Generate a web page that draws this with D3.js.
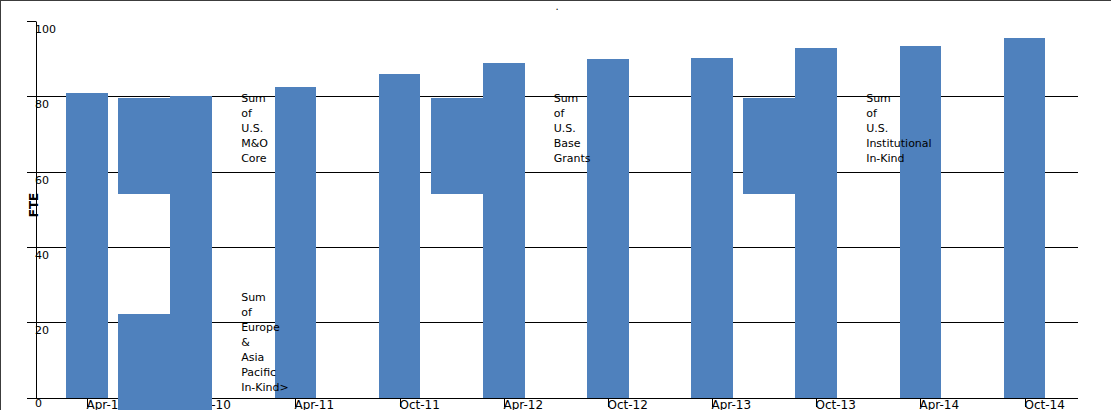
<!DOCTYPE html>
<html>
<head>
<meta charset="utf-8">
<script src="https://cdn.jsdelivr.net/npm/d3@7"></script>
<style>
  html, body { margin: 0; padding: 0; background: #fff; }
  svg { display: block; }
  text { font-family: "DejaVu Sans", sans-serif; fill: #000; }
  rect { shape-rendering: crispEdges; }
</style>
</head>
<body>
<script>
// ---- data ----
const periods = ["Apr-10","Oct-10","Apr-11","Oct-11","Apr-12","Oct-12","Apr-13","Oct-13","Apr-14","Oct-14"];
const totalFTE = [80.8, 80.2, 82.4, 85.9, 88.8, 89.9, 90.1, 92.8, 93.4, 95.6];
const totalLow = [0, -4, 0, 0, 0, 0, 0, 0, 0, 0];
const yTicks = [0, 20, 40, 60, 80, 100];
const yTitle = "FTE";
// stray stacked segments (slot index, high value, low value)
const segSlot = [1, 4, 7, 1];
const segHigh = [79.5, 79.5, 79.5, 22.1];
const segLow  = [54.1, 54.1, 54.1, -4];
// series labels left in the plot
const noteSlot = [1, 4, 7, 1];
const noteValue = [78.6, 78.6, 78.6, 25.7];
const noteLines = [
  ["Sum","of","U.S.","M&O","Core"],
  ["Sum","of","U.S.","Base","Grants"],
  ["Sum","of","U.S.","Institutional","In-Kind"],
  ["Sum","of","Europe","&","Asia","Pacific","In-Kind>"]
];

// ---- drawing ----
const W = 1111, H = 410;
const svg = d3.select("body").append("svg").attr("width", W).attr("height", H);

const x = d3.scaleLinear().domain([0, periods.length - 1]).range([87, 1024.5]);
const y = d3.scaleLinear().domain([0, 100]).range([397.5, 21]);
const axisLeft = 36, tickLeft = 27, plotRight = 1078;
const color = "#4f81bd";

// frame (top & left)
svg.append("line").attr("x1", 0).attr("x2", W).attr("y1", 0.5).attr("y2", 0.5).attr("stroke", "#3c3c3c");
svg.append("line").attr("x1", 0.5).attr("x2", 0.5).attr("y1", 0).attr("y2", H).attr("stroke", "#3c3c3c");

// stray title dot
svg.append("text").attr("x", 555.5).attr("y", 10).style("font-size", "10px").text(".");

// gridlines / y ticks
const g = svg.append("g");
yTicks.forEach(v => {
  const yy = Math.round(y(v)) + 0.5;
  g.append("line")
    .attr("x1", tickLeft).attr("x2", v === 100 ? axisLeft : plotRight)
    .attr("y1", yy).attr("y2", yy)
    .attr("stroke", "#000").attr("stroke-width", 1);
  g.append("text").attr("x", axisLeft - 1).attr("y", Math.min(yy + 11.5, 407))
    .style("font-size", "11px").text(v);
});
// y axis line
svg.append("line").attr("x1", axisLeft + 0.5).attr("x2", axisLeft + 0.5)
  .attr("y1", Math.round(y(100)) + 0.5).attr("y2", Math.round(y(0)) + 0.5)
  .attr("stroke", "#000");

// y title
svg.append("text")
  .attr("transform", `translate(${38},${205}) rotate(-90)`)
  .attr("text-anchor", "middle")
  .style("font-size", "12px").style("font-weight", "bold")
  .text(yTitle);

// x ticks + labels
periods.forEach((p, i) => {
  const xx = Math.round(x(i)) + 0.5;
  svg.append("line").attr("x1", xx).attr("x2", xx)
    .attr("y1", Math.round(y(0)) + 0.5).attr("y2", 407).attr("stroke", "#000");
  svg.append("text").attr("x", xx - 1).attr("y", 408.5)
    .style("font-size", "12px").text(p);
});

// bars
svg.append("g").selectAll("rect").data(periods).join("rect")
  .attr("x", (d, i) => x(i - 0.2))
  .attr("width", (d, i) => x(i + 0.2) - x(i - 0.2))
  .attr("y", (d, i) => y(totalFTE[i]))
  .attr("height", (d, i) => y(totalLow[i]) - y(totalFTE[i]))
  .attr("fill", color);

// stray segments
svg.append("g").selectAll("rect").data(segSlot).join("rect")
  .attr("x", (d) => x(d - 0.7))
  .attr("width", (d) => x(d - 0.2) - x(d - 0.7) + 0.5)
  .attr("y", (d, i) => y(segHigh[i]))
  .attr("height", (d, i) => y(segLow[i]) - y(segHigh[i]))
  .attr("fill", color);

// notes
noteSlot.forEach((s, k) => {
  const t = svg.append("text").attr("x", x(s + 0.48)).attr("y", y(noteValue[k]))
    .style("font-size", "11px");
  noteLines[k].forEach((ln, j) => {
    t.append("tspan").attr("x", x(s + 0.48)).attr("dy", j === 0 ? 0 : 15).text(ln);
  });
});
</script>
</body>
</html>
